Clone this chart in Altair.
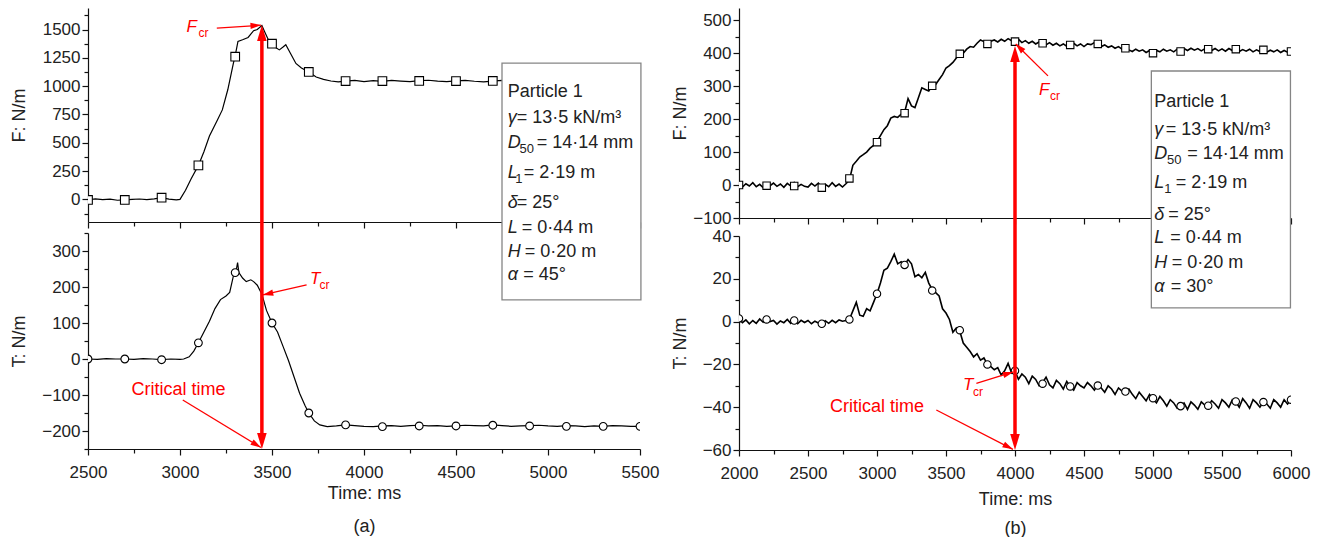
import math
import pandas as pd
import altair as alt

FONT = "Liberation Sans"
INK = "#222222"
RED = "#ff0000"
BOXC = "#858585"

# ---------------- data: panel (a), alpha = 45 deg ----------------
A_F_TIME = [2500, 2540, 2580, 2620, 2660, 2700, 2740, 2780, 2820, 2860,
            2900, 2940, 2980, 3000, 3030, 3060, 3100, 3130, 3160, 3200,
            3230, 3260, 3290, 3300, 3315, 3340, 3370, 3400, 3420, 3445,
            3460, 3480, 3500, 3520, 3540, 3560, 3575, 3600, 3630, 3660,
            3700, 3740, 3780, 3820, 3860, 3900, 3950] + list(range(4000, 5501, 50))
A_F_VAL = [-5, 5, -3, 2, -8, -5, 0, 3, -2, 5,
           15, 2, -5, 0, 80, 180, 300, 420, 560, 690,
           790, 970, 1200, 1270, 1395, 1410, 1430, 1490, 1500, 1535,
           1480, 1410, 1375, 1340, 1320, 1345, 1365, 1290, 1200, 1160,
           1125, 1080, 1060, 1045, 1038, 1045, 1050,
           1040, 1048, 1042, 1050, 1045, 1040, 1048, 1052, 1044, 1040,
           1046, 1050, 1043, 1038, 1045, 1050, 1042, 1046, 1040, 1048,
           1044, 1050, 1042, 1038, 1046, 1044, 1040, 1048, 1042, 1046, 1040]
A_T_TIME = [2500, 2550, 2600, 2650, 2700, 2750, 2800, 2850, 2900, 2950, 3000,
            3020, 3050, 3075, 3100, 3130, 3160, 3190, 3220, 3250,
            3270, 3290, 3305, 3313, 3320, 3340, 3360, 3385, 3400, 3420,
            3445, 3470, 3500, 3530, 3560, 3590, 3620, 3650, 3680, 3700,
            3730, 3760, 3800, 3850, 3900] + list(range(3950, 5501, 50))
A_T_VAL = [0, -1, 1, 0, 0, -1, 1, 0, -2, 0, -1,
           0, 6, 22, 45, 75, 105, 140, 165, 175,
           185, 230, 245, 268, 240, 225, 215, 220, 215, 205,
           180, 135, 100, 75, 35, -5, -50, -95, -130, -150,
           -172, -183, -188, -186, -183,
           -185, -187, -188, -186, -185, -187, -185, -184, -186, -185,
           -187, -186, -184, -185, -186, -183, -185, -187, -186, -185,
           -184, -186, -187, -185, -186, -188, -186, -187, -185, -186,
           -187, -187]
A_MARK_TIME = list(range(2500, 5501, 200))
A_F_MARK = [-5, -5, 15, 300, 1260, 1375, 1125, 1045, 1045, 1046, 1045, 1046,
            1045, 1045, 1045, 1045]
A_T_MARK = [0, 0, -2, 45, 240, 100, -150, -183, -188, -186, -186, -184, -186,
            -187, -187, -187]

# ---------------- data: panel (b), alpha = 30 deg ----------------
B_TIME = list(range(2000, 6001, 25))
B_F_VAL = [
    0, -6, 4, -3, 7, -5, 2, -8, 5, -2, 6, -4, 3, -7, 5, -3, 8, -5, 2, -4,
    -6, 5, -3, 6, -8, 2, -5, 7, -4, 3, -6, 4, 15, 60, 72, 85, 92, 100, 112, 120,
    132, 150, 168, 180, 203, 208, 205, 215, 220, 262, 240, 235, 265, 295, 290, 285, 302, 305, 320, 335,
    355, 362, 372, 385, 398, 400, 412, 420, 418, 430, 440, 435, 428, 436, 440, 434, 442, 436, 444, 438,
    436, 442, 432, 438, 430, 436, 428, 434, 430, 425, 432, 424, 430, 422, 428, 421, 426, 430, 422, 428,
    420, 428, 426, 432, 428, 420, 425, 418, 422, 415, 420, 412, 416, 410, 405, 412, 406, 410, 402, 408,
    400, 408, 404, 412, 406, 410, 404, 412, 405, 414, 408, 415, 409, 414, 407, 413, 412, 408, 414, 407,
    413, 406, 414, 408, 412, 405, 411, 406, 412, 404, 410, 405, 410, 403, 409, 404, 410, 402, 408, 403,
    405]
B_T_VAL = [
    1, -0.5, 0.8, -1, 0.5, -0.8, 1.2, -0.3, 1, 0, 0.5, -1.2, 0.3, -0.5, 1, -0.8, 0.4, -1, 0.6, -0.4,
    0.5, -1, 0.2, -0.6, -1, 0.4, -0.8, 0.6, -0.5, 0.8, 0.2, 0.5, 1, 5, 9, 3, 2.5, 6, 5, 9,
    13, 18, 24, 25, 28, 31.5, 27, 28, 26.5, 29, 27, 21, 22, 20.5, 23, 18, 15, 13.5, 12, 6,
    4, 1, -5, -3, -4.5, -10, -12, -14, -16.5, -15, -18, -17, -20, -21, -22.5, -21.5, -25, -23, -19.5, -24,
    -23, -27, -24.5, -26, -29, -25.5, -27, -30, -28.5, -26, -29.5, -31, -27.5, -29, -31.5, -28, -30.5, -32, -28.5, -30,
    -31, -28.5, -30, -32, -29.5, -31, -33, -30, -31.5, -34, -31, -32.5, -33, -31.5, -34, -36, -33, -35, -37, -34,
    -36, -38, -35, -37, -39.5, -36.5, -38, -40.5, -39.5, -38, -41, -37.5, -39, -41, -37.5, -39, -39.5, -37, -38.5, -40.5,
    -36.5, -38, -40, -36.5, -37.5, -40, -36, -38, -40.5, -36.5, -38, -40, -37.5, -38.5, -40.5, -36.5, -38, -40, -36.5, -38.5,
    -36.5]
B_MARK_TIME = list(range(2000, 6001, 200))
B_F_MARK = [0, -2, -3, -8, 20, 130, 218, 301, 398, 428, 435, 430, 425, 428, 415,
            400, 405, 412, 412, 410, 405]
B_T_MARK = [1.5, 1, 0.5, -1, 1, 13, 26.5, 14.5, -4, -20, -23, -29, -30.3, -29.9,
            -32.7, -35.8, -39.5, -39.3, -37.3, -37.6, -36.5]

# ---------------- axis ticks ----------------
A_X_MAJOR = [2500, 3000, 3500, 4000, 4500, 5000, 5500]
A_X_MINOR = [2750, 3250, 3750, 4250, 4750, 5250]
A_F_MAJOR = [0, 250, 500, 750, 1000, 1250, 1500]
A_F_MINOR = [-125, 125, 375, 625, 875, 1125, 1375, 1625]
A_T_MAJOR = [-200, -100, 0, 100, 200, 300]
A_T_MINOR = [-250, -150, -50, 50, 150, 250, 350]
B_X_MAJOR = [2000, 2500, 3000, 3500, 4000, 4500, 5000, 5500, 6000]
B_X_MINOR = [2250, 2750, 3250, 3750, 4250, 4750, 5250, 5750]
B_F_MAJOR = [-100, 0, 100, 200, 300, 400, 500]
B_F_MINOR = [-50, 50, 150, 250, 350, 450]
B_T_MAJOR = [-60, -40, -20, 0, 20, 40]
B_T_MINOR = [-50, -30, -10, 10, 30]

# ---------------- text of the parameter boxes ----------------
# (italic symbol, subscript, subscript dx, rest, rest dx)
A_BOX_LINES = [
    ("", "", 0, "Particle 1", 0),
    ("γ", "", 0, "= 13·5 kN/m³", 9),
    ("D", "50", 11.7, "= 14·14 mm", 29),
    ("L", "1", 7.5, "= 2·19 m", 16),
    ("δ", "", 0, "= 25°", 9),
    ("L", "", 0, "= 0·44 m", 14),
    ("H", "", 0, "= 0·20 m", 17),
    ("α", "", 0, "= 45°", 15.5),
]
B_BOX_LINES = [
    ("", "", 0, "Particle 1", 0),
    ("γ", "", 0, "= 13·5 kN/m³", 11.5),
    ("D", "50", 12.7, "= 14·14 mm", 33),
    ("L", "1", 10, "= 2·19 m", 21.5),
    ("δ", "", 0, "= 25°", 14),
    ("L", "", 0, "= 0·44 m", 16),
    ("H", "", 0, "= 0·20 m", 17.5),
    ("α", "", 0, "= 30°", 16.5),
]

# ---------------- layout ----------------
W = 552
PANEL_GAP = 99
A_TOP_H, A_GAP, A_BOT_H = 214, 11, 216
B_TOP_H, B_GAP, B_BOT_H = 210, 18, 214
A_XD, A_FD, A_TD = [2500, 5500], [-200, 1690], [-250, 350]
B_XD, B_FD, B_TD = [2000, 6000], [-100, 537], [-60, 40]
HEAD = "M0,0L0.6,2L-0.6,2Z"


def ppu(length, dom):
    return length / (dom[1] - dom[0])


def upper_to_lower(fv, fdom, top_h, gap, tdom, bot_h):
    y_rel = -(gap + top_h) + (fdom[1] - fv) * ppu(top_h, fdom)
    return tdom[1] - y_rel / ppu(bot_h, tdom)


def heading(t0, v0, t1, v1, kx, ky):
    dx = (t1 - t0) * kx
    dy = -(v1 - v0) * ky
    return math.degrees(math.atan2(dx, -dy)) % 360


def texts(rows, size, color=INK, italic=False, align="left", dx=0, dy=0):
    df = pd.DataFrame(rows, columns=["t", "v", "s"])

    def build(X, Y):
        return alt.Chart(df).mark_text(
            font=FONT, fontSize=size, fontStyle="italic" if italic else "normal",
            color=color, align=align, baseline="alphabetic", dx=dx, dy=dy,
        ).encode(x=X(None), y=Y(None), text="s:N")
    return build


def rules(rows, width):
    df = pd.DataFrame(rows, columns=["t", "v", "t2", "v2"])

    def build(X, Y):
        return alt.Chart(df).mark_rule(color=RED, strokeWidth=width).encode(
            x=X(None), y=Y(None), x2="t2:Q", y2="v2:Q")
    return build


def heads(rows, size):
    df = pd.DataFrame(rows, columns=["t", "v", "ang"])

    def build(X, Y):
        return alt.Chart(df).mark_point(
            shape=HEAD, filled=True, color=RED, size=size, opacity=1, strokeWidth=0,
        ).encode(x=X(None), y=Y(None), angle=alt.Angle("ang:Q", scale=None))
    return build


def box(rows):
    df = pd.DataFrame(rows, columns=["t", "v", "t2", "v2"])

    def build(X, Y):
        return alt.Chart(df).mark_rect(fill="white", stroke=BOXC, strokeWidth=1.3).encode(
            x=X(None), y=Y(None), x2="t2:Q", y2="v2:Q")
    return build


def box_text(x0, baselines, lines):
    out = []
    for base, (sym, sub, sub_dx, rest, rest_dx) in zip(baselines, lines):
        if sym:
            out.append(texts([(x0, base, sym)], 18, italic=True))
        if sub:
            out.append(texts([(x0, base, sub)], 13, dx=sub_dx, dy=5))
        out.append(texts([(x0, base, rest)], 18, dx=rest_dx))
    return out


def subplot(line_df, mark_df, shape, msize, lw, xdom, ydom, h,
            x_axis, x_minor, y_axis, y_minor, extras):
    def X(ax):
        return alt.X("t:Q", scale=alt.Scale(domain=xdom, nice=False, zero=False), axis=ax)

    def Y(ax):
        return alt.Y("v:Q", scale=alt.Scale(domain=ydom, nice=False, zero=False), axis=ax)

    layers = [
        alt.Chart(line_df).mark_line(color="black", strokeWidth=lw, clip=True).encode(
            x=X(x_axis), y=Y(y_axis)),
        alt.Chart(mark_df).mark_point(opacity=0).encode(
            x=X(alt.Axis(values=x_minor, labels=False, domain=False, tickSize=4,
                         title=None, grid=False, orient="bottom")),
            y=Y(alt.Axis(values=y_minor, labels=False, domain=False, tickSize=4,
                         title=None, grid=False, orient="left"))),
        alt.Chart(mark_df).mark_point(
            shape=shape, filled=True, fill="white", stroke="black", strokeWidth=1.1,
            size=msize, opacity=1, clip=True).encode(x=X(None), y=Y(None)),
    ]
    layers += [f(X, Y) for f in extras]
    return alt.layer(*layers).resolve_axis(x="independent", y="independent").properties(
        width=W, height=h)


def x_top_axis(values):
    return alt.Axis(values=values, labels=False, tickSize=6, title=None, grid=False,
                    orient="bottom")


def x_bottom_axis(values, title, pad, lh):
    return alt.Axis(values=values, format="d", tickSize=6, labelPadding=9, title=title,
                    titlePadding=pad, titleLineHeight=lh, grid=False, orient="bottom",
                    labelFlush=False)


def y_axis(values, title, tx):
    return alt.Axis(values=values, format="d", tickSize=6, labelPadding=2, title=title,
                    titleX=tx, grid=False, orient="left", labelFlush=False)


# ================= panel (a) =================
axa, afa, ata = ppu(W, A_XD), ppu(A_TOP_H, A_FD), ppu(A_BOT_H, A_TD)
a_line_f = pd.DataFrame({"t": A_F_TIME, "v": A_F_VAL})
a_line_t = pd.DataFrame({"t": A_T_TIME, "v": A_T_VAL})
a_mark_f = pd.DataFrame({"t": A_MARK_TIME, "v": A_F_MARK})
a_mark_t = pd.DataFrame({"t": A_MARK_TIME, "v": A_T_MARK})

A_TCRIT, A_FCR = 3445, 1540
a_tip_top = upper_to_lower(A_FCR, A_FD, A_TOP_H, A_GAP, A_TD, A_BOT_H)
a_fcr_arrow = (3200, 1512, 3440, 1538)
a_tcr_arrow = (3688, 205.6, 3450, 178)
a_ct_arrow = (3015, -114, 3440, -246)

a_top = subplot(
    a_line_f, a_mark_f, "square", 75, 1.2, A_XD, A_FD, A_TOP_H,
    x_top_axis(A_X_MAJOR), A_X_MINOR, y_axis(A_F_MAJOR, "F: N/m", -60), A_F_MINOR,
    [
        rules([a_fcr_arrow], 1.3),
        heads([(a_fcr_arrow[2], a_fcr_arrow[3], heading(*a_fcr_arrow, axa, afa))], 110),
        texts([(3036, 1481, "F")], 17, RED, italic=True),
        texts([(3036, 1481, "cr")], 12, RED, dx=12, dy=5),
    ])

a_bot = subplot(
    a_line_t, a_mark_t, "circle", 60, 1.2, A_XD, A_TD, A_BOT_H,
    x_bottom_axis(A_X_MAJOR, ["Time: ms", "(a)"], 4, 33), A_X_MINOR,
    y_axis(A_T_MAJOR, "T: N/m", -60), A_T_MINOR,
    [box([(4750, 822, 5505, 164)])]
    + box_text(4781, [728.6, 654.7, 585.3, 501.9, 418.6, 350, 284.2, 219.4], A_BOX_LINES)
    + [
        rules([a_tcr_arrow, a_ct_arrow], 1.3),
        rules([(A_TCRIT, a_tip_top - 10 / ata, A_TCRIT, A_TD[0] + 10 / ata)], 3.5),
        heads([(a_tcr_arrow[2], a_tcr_arrow[3], heading(*a_tcr_arrow, axa, ata)),
               (a_ct_arrow[2], a_ct_arrow[3], heading(*a_ct_arrow, axa, ata))], 110),
        heads([(A_TCRIT, a_tip_top, 0), (A_TCRIT, A_TD[0], 180)], 256),
        texts([(3706, 208.3, "T")], 17, RED, italic=True),
        texts([(3706, 208.3, "cr")], 12, RED, dx=9.5, dy=4.5),
        texts([(2992, -100, "Critical time")], 18, RED, align="center"),
    ])

# ================= panel (b) =================
axb, afb, atb = ppu(W, B_XD), ppu(B_TOP_H, B_FD), ppu(B_BOT_H, B_TD)
b_line_f = pd.DataFrame({"t": B_TIME, "v": B_F_VAL})
b_line_t = pd.DataFrame({"t": B_TIME, "v": B_T_VAL})
b_mark_f = pd.DataFrame({"t": B_MARK_TIME, "v": B_F_MARK})
b_mark_t = pd.DataFrame({"t": B_MARK_TIME, "v": B_T_MARK})

B_TCRIT, B_FCR = 4000, 422
b_tip_top = upper_to_lower(B_FCR, B_FD, B_TOP_H, B_GAP, B_TD, B_BOT_H)
b_fcr_arrow = (4239, 331, 4005, 428)
b_tcr_arrow = (3720, -28.9, 3988, -23.5)
b_ct_arrow = (3430, -41.3, 3985, -59.7)

b_top = subplot(
    b_line_f, b_mark_f, "square", 55, 1.6, B_XD, B_FD, B_TOP_H,
    x_top_axis(B_X_MAJOR), B_X_MINOR, y_axis(B_F_MAJOR, "F: N/m", -50), B_F_MINOR,
    [
        rules([b_fcr_arrow], 1.3),
        heads([(b_fcr_arrow[2], b_fcr_arrow[3], heading(*b_fcr_arrow, axb, afb))], 110),
        texts([(4174, 273.5, "F")], 17, RED, italic=True),
        texts([(4174, 273.5, "cr")], 12, RED, dx=11, dy=5),
    ])

b_bot = subplot(
    b_line_t, b_mark_t, "circle", 55, 1.6, B_XD, B_TD, B_BOT_H,
    x_bottom_axis(B_X_MAJOR, ["Time: ms", "(b)"], 9, 29), B_X_MINOR,
    y_axis(B_T_MAJOR, "T: N/m", -50), B_T_MINOR,
    [box([(4988, 117.1, 5996, 6.4)])]
    + box_text(5009, [100.4, 87.2, 75.8, 62.3, 47.5, 36.6, 24.9, 14.0], B_BOX_LINES)
    + [
        rules([b_tcr_arrow, b_ct_arrow], 1.3),
        rules([(B_TCRIT, b_tip_top - 10 / atb, B_TCRIT, B_TD[0] + 10 / atb)], 3.5),
        heads([(b_tcr_arrow[2], b_tcr_arrow[3], heading(*b_tcr_arrow, axb, atb)),
               (b_ct_arrow[2], b_ct_arrow[3], heading(*b_ct_arrow, axb, atb))], 110),
        heads([(B_TCRIT, b_tip_top, 0), (B_TCRIT, B_TD[0], 180)], 256),
        texts([(3623, -32, "T")], 17, RED, italic=True),
        texts([(3623, -32, "cr")], 12, RED, dx=10, dy=6),
        texts([(3000, -42.1, "Critical time")], 18, RED, align="center"),
    ])

panel_a = alt.vconcat(a_top, a_bot, spacing=A_GAP, bounds="flush")
panel_b = alt.vconcat(b_top, b_bot, spacing=B_GAP, bounds="flush")

# with flush bounds the nested column counts as zero width, so the step is width + gap
chart = alt.hconcat(panel_a, panel_b, spacing=W + PANEL_GAP, bounds="flush").properties(
    padding={"left": 2, "top": 0, "right": 4, "bottom": 0}
).configure_view(strokeWidth=0).configure_axis(
    labelFont=FONT, labelFontSize=17, labelColor=INK,
    titleFont=FONT, titleFontSize=18, titleColor=INK, titleFontWeight="normal",
    domainColor="#111111", tickColor="#111111", domainWidth=1.2, tickWidth=1.2,
)

chart.save("out.html", embed_options={"renderer": "svg", "actions": False})
